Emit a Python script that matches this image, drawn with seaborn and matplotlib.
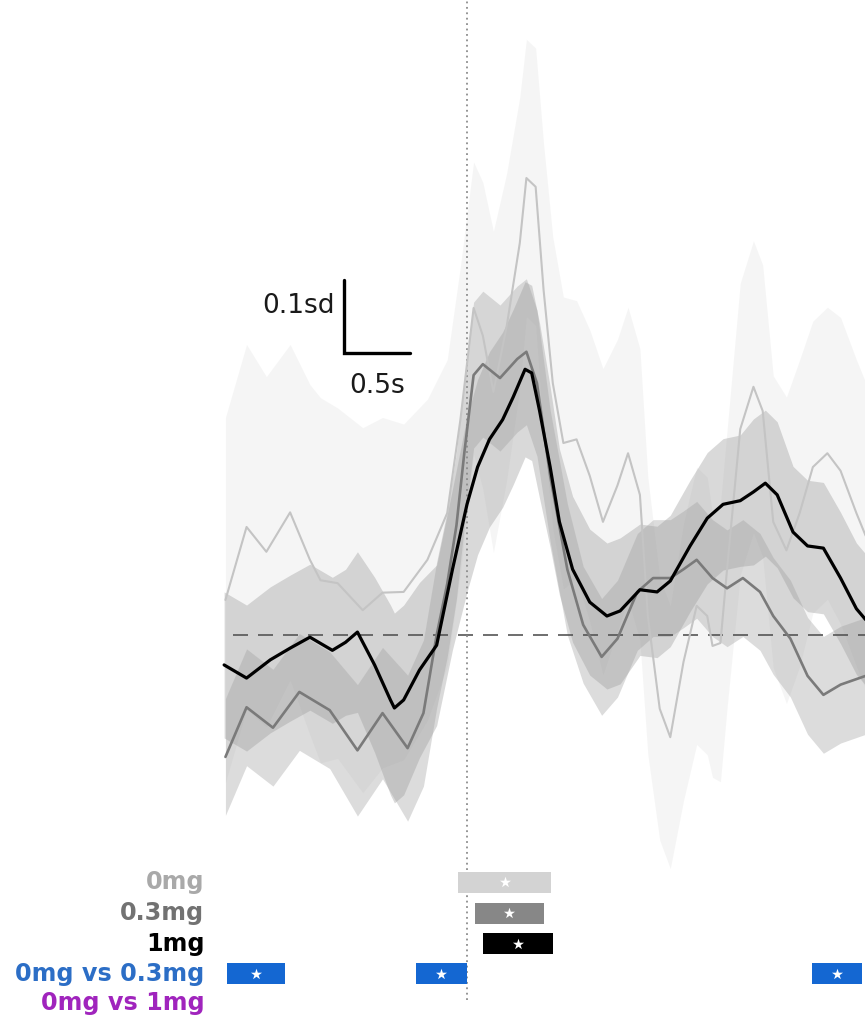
import numpy as np
import matplotlib
matplotlib.use("Agg")
import matplotlib.pyplot as plt
import seaborn as sns

sns.set_style("white")
plt.rcParams["font.family"] = ["DejaVu Sans"]

# ---- group mean traces (z-scored response, sd) and their SEM -------------
t_0mg = [-1.83, -1.67, -1.52, -1.34, -1.19, -1.11, -0.98, -0.79, -0.64, -0.48,
         -0.30, -0.15, -0.05, 0.05, 0.12, 0.20, 0.30, 0.40, 0.45, 0.52,
         0.58, 0.65, 0.73, 0.83, 0.93, 1.03, 1.14, 1.22, 1.31, 1.37,
         1.46, 1.54, 1.64, 1.74, 1.82, 1.86, 1.92, 1.97, 2.07, 2.17,
         2.24, 2.32, 2.42, 2.52, 2.62, 2.73, 2.83, 2.95, 3.02]
mean_0mg = [0.048, 0.148, 0.114, 0.168, 0.103, 0.075, 0.071, 0.034, 0.058, 0.059,
            0.103, 0.167, 0.295, 0.448, 0.410, 0.333, 0.422, 0.537, 0.626, 0.614,
            0.473, 0.345, 0.263, 0.268, 0.218, 0.155, 0.205, 0.249, 0.192, 0.026,
            -0.101, -0.140, -0.037, 0.040, 0.026, -0.015, -0.011, 0.090, 0.282, 0.340,
            0.307, 0.155, 0.116, 0.167, 0.230, 0.249, 0.225, 0.167, 0.136]
sem_0mg = [0.25, 0.25, 0.24, 0.23, 0.24, 0.25, 0.24, 0.25, 0.24, 0.23,
           0.22, 0.21, 0.21, 0.20, 0.21, 0.22, 0.21, 0.20, 0.19, 0.19,
           0.20, 0.20, 0.20, 0.19, 0.20, 0.21, 0.20, 0.20, 0.20, 0.19,
           0.18, 0.18, 0.19, 0.19, 0.19, 0.18, 0.19, 0.19, 0.20, 0.20,
           0.20, 0.20, 0.21, 0.21, 0.20, 0.20, 0.21, 0.21, 0.21]

t_03mg = [-1.83, -1.67, -1.47, -1.27, -1.04, -0.83, -0.64, -0.45, -0.33, -0.23,
          -0.15, -0.08, -0.02, 0.05, 0.12, 0.25, 0.38, 0.45, 0.53, 0.63,
          0.76, 0.88, 1.02, 1.14, 1.29, 1.41, 1.54, 1.64, 1.74, 1.86,
          1.97, 2.09, 2.22, 2.32, 2.45, 2.58, 2.70, 2.83, 3.02]
mean_03mg = [-0.167, -0.099, -0.127, -0.078, -0.103, -0.158, -0.107, -0.155, -0.107, 0.000,
             0.070, 0.150, 0.250, 0.356, 0.371, 0.352, 0.378, 0.388, 0.345, 0.218,
             0.090, 0.014, -0.030, -0.005, 0.059, 0.078, 0.078, 0.090, 0.103, 0.078,
             0.064, 0.078, 0.059, 0.026, -0.005, -0.056, -0.082, -0.068, -0.056]
sem_03mg = [0.08, 0.08, 0.08, 0.08, 0.08, 0.09, 0.09, 0.10, 0.10, 0.10,
            0.10, 0.10, 0.10, 0.10, 0.10, 0.10, 0.10, 0.10, 0.10, 0.09,
            0.09, 0.08, 0.08, 0.08, 0.08, 0.08, 0.08, 0.08, 0.08, 0.08,
            0.08, 0.08, 0.08, 0.08, 0.08, 0.08, 0.08, 0.08, 0.08]

t_1mg = [-1.84, -1.67, -1.49, -1.34, -1.19, -1.02, -0.92, -0.83, -0.70, -0.58,
         -0.55, -0.48, -0.36, -0.23, -0.11, 0.00, 0.08, 0.17, 0.27, 0.35,
         0.44, 0.49, 0.55, 0.63, 0.70, 0.80, 0.93, 1.06, 1.16, 1.31,
         1.44, 1.54, 1.69, 1.82, 1.94, 2.07, 2.17, 2.26, 2.35, 2.47,
         2.58, 2.70, 2.83, 2.95, 3.02]
mean_1mg = [-0.041, -0.059, -0.034, -0.018, -0.003, -0.021, -0.010, 0.004, -0.041, -0.089,
            -0.100, -0.089, -0.048, -0.014, 0.090, 0.179, 0.230, 0.268, 0.295, 0.326,
            0.364, 0.359, 0.307, 0.230, 0.155, 0.090, 0.045, 0.026, 0.033, 0.062,
            0.059, 0.074, 0.122, 0.160, 0.179, 0.184, 0.196, 0.208, 0.192, 0.141,
            0.122, 0.119, 0.078, 0.036, 0.021]
sem_1mg = [0.10, 0.10, 0.10, 0.10, 0.10, 0.10, 0.10, 0.11, 0.12, 0.13,
           0.13, 0.13, 0.12, 0.11, 0.11, 0.12, 0.12, 0.12, 0.12, 0.12,
           0.12, 0.12, 0.12, 0.11, 0.10, 0.10, 0.10, 0.10, 0.10, 0.09,
           0.09, 0.09, 0.09, 0.09, 0.09, 0.09, 0.10, 0.10, 0.10, 0.09,
           0.09, 0.09, 0.09, 0.09, 0.09]

# ---- significant time windows (s) ----------------------------------------
row_labels = ["0mg", "0.3mg", "1mg", "0mg vs 0.3mg", "0mg vs 1mg"]
sig_0mg = [(-0.07, 0.64)]
sig_03mg = [(0.06, 0.58)]
sig_1mg = [(0.12, 0.65)]
sig_0_vs_03 = [(-1.82, -1.38), (-0.39, 0.00), (2.61, 2.99)]
sig_0_vs_1 = []

# ---- layout ------------------------------------------------------------------
PX_PER_S = 132.0
PX_PER_SD = 730.0
W, H = 865, 1021
X0, Y0 = 467, 635          # pixel position of t=0 / baseline

fig = plt.figure(figsize=(W / 100, H / 100), dpi=100)
ax = fig.add_axes([0, 0, 1, 1])
ax.set_xlim(-X0 / PX_PER_S, (W - X0) / PX_PER_S)
ax.set_ylim((Y0 - H) / PX_PER_SD, Y0 / PX_PER_SD)
ax.axis("off")

groups = [
    (t_0mg, mean_0mg, sem_0mg, "#c4c4c4", 1.5, "#d4d4d4", 0.22),
    (t_03mg, mean_03mg, sem_03mg, "#7a7a7a", 1.9, "#a8a8a8", 0.40),
    (t_1mg, mean_1mg, sem_1mg, "#000000", 2.3, "#9c9c9c", 0.38),
]

for t, m, s, lc, lw, fc, fa in groups:
    t = np.asarray(t); m = np.asarray(m); s = np.asarray(s)
    ax.fill_between(t, m - s, m + s, color=fc, alpha=fa, lw=0, zorder=1)

# baseline and stimulus onset
ax.plot([-1.77, 3.05], [0, 0], color="#555555", lw=1.2, dashes=(9, 6), zorder=2)
ax.plot([0, 0], [-0.50, Y0 / PX_PER_SD], color="#8c8c8c", lw=1.3, ls=(0, (1, 2)), zorder=2)

for t, m, s, lc, lw, fc, fa in groups:
    sns.lineplot(x=t, y=m, color=lc, lw=lw, ax=ax, zorder=3,
                 solid_joinstyle="round", solid_capstyle="round")

# scale bar: 0.1 sd / 0.5 s
sb_t, sb_v = -0.93, 0.386
ax.plot([sb_t, sb_t, sb_t + 0.5], [sb_v + 0.1, sb_v, sb_v], color="black",
        lw=2.4, solid_joinstyle="miter", zorder=4)
ax.text(sb_t - 0.075, sb_v + 0.064, "0.1sd", ha="right", va="center", fontsize=19,
        color="#1a1a1a")
ax.text(sb_t + 0.25, sb_v - 0.045, "0.5s", ha="center", va="center", fontsize=19,
        color="#1a1a1a")

# significance rows
row_v = [-0.339, -0.381, -0.423, -0.464, -0.504]
row_h = 0.0285
row_colors = ["#d3d3d3", "#878787", "#000000", "#1467d2", "#a21fc0"]
label_colors = ["#a9a9a9", "#727272", "#000000", "#2c6ec6", "#a024bd"]
windows = [sig_0mg, sig_03mg, sig_1mg, sig_0_vs_03, sig_0_vs_1]

for v, lab, bc, tc, win in zip(row_v, row_labels, row_colors, label_colors, windows):
    ax.text(-1.99, v, lab, ha="right", va="center", fontsize=17.2,
            fontweight="bold", color=tc)
    for a, b in win:
        ax.barh(v, b - a, left=a, height=row_h, color=bc, lw=0, zorder=4)
        ax.scatter([(a + b) / 2], [v], marker="*", s=70, color="white",
                   lw=0, zorder=5)

fig.savefig("out.png", dpi=100)
